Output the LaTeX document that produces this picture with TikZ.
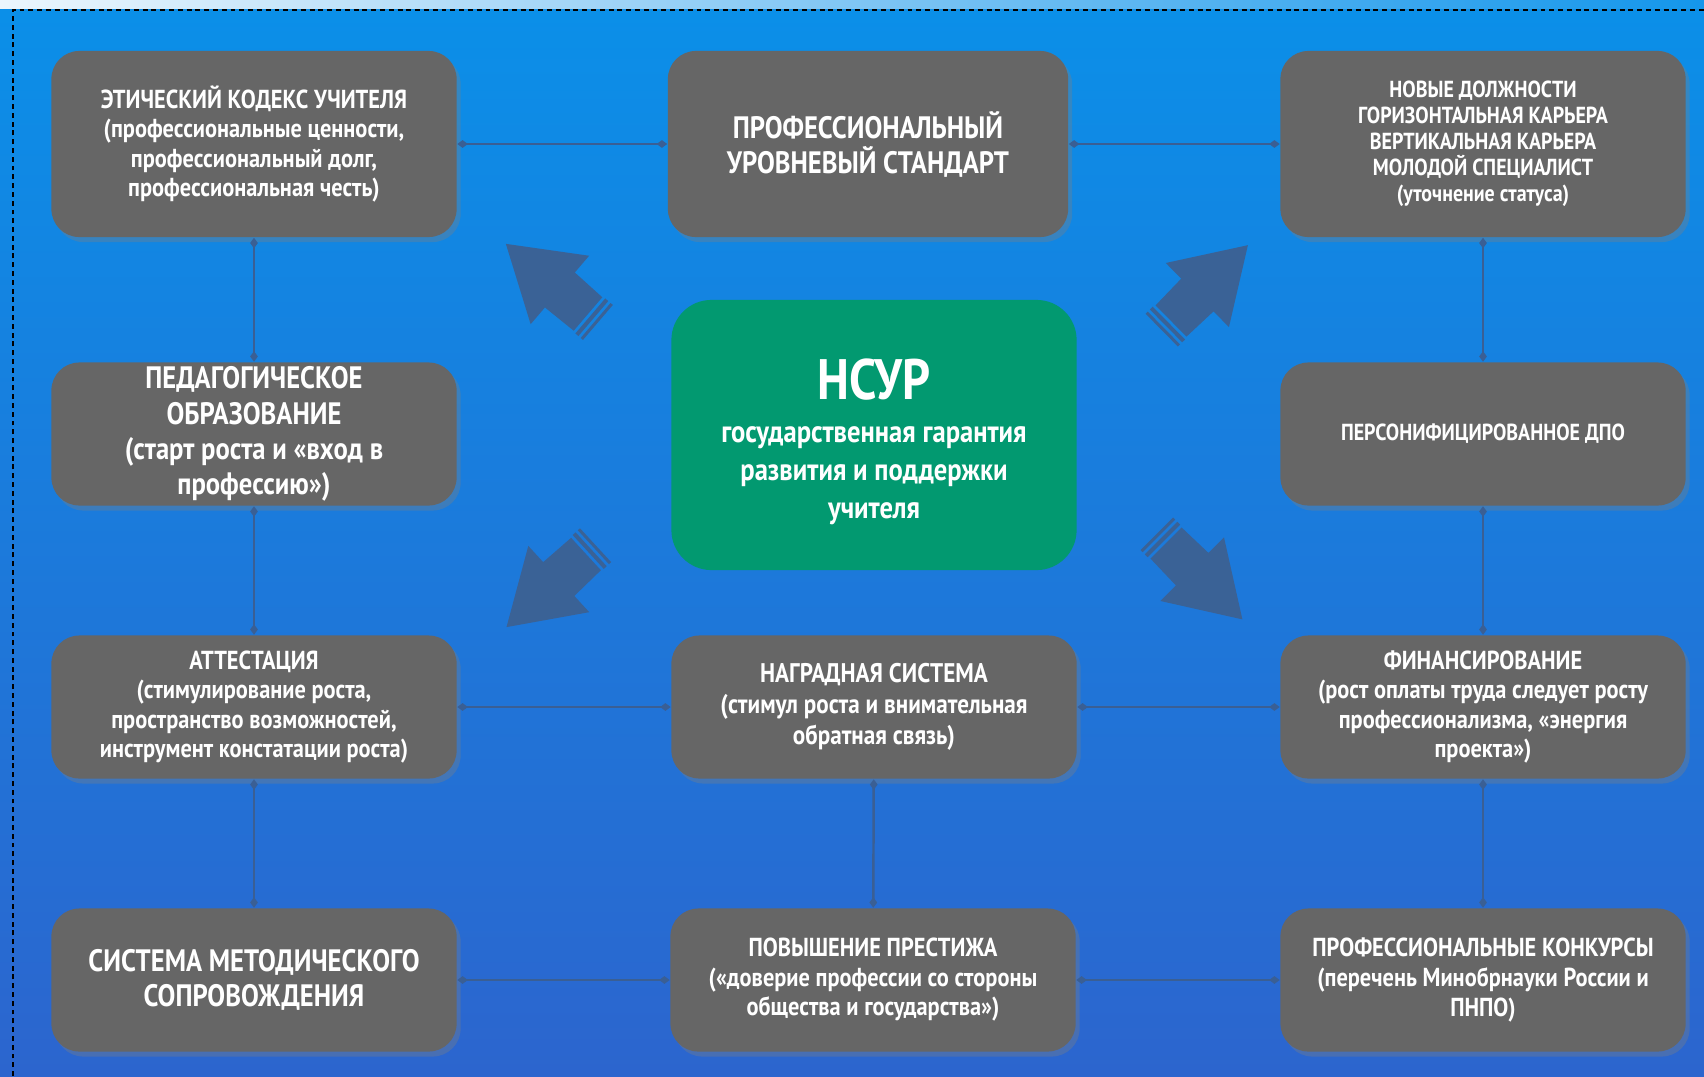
\documentclass[tikz,border=0pt]{standalone}
\usepackage{fontspec}
\setmainfont{PT Sans}[FakeStretch=0.86]
\usetikzlibrary{arrows.meta,shadows}

\definecolor{boxgray}{RGB}{102,102,102}
\definecolor{nsurgreen}{RGB}{2,153,112}
\definecolor{linkblue}{RGB}{58,95,148}
\definecolor{arrowblue}{RGB}{58,98,150}
\definecolor{bgtop}{RGB}{11,143,232}
\definecolor{bgbottom}{RGB}{44,101,206}

\newcommand{\txtL}{\bfseries\fontsize{8.8pt}{10pt}\selectfont}
\newcommand{\txtM}{\bfseries\fontsize{7.4pt}{8.4pt}\selectfont}
\newcommand{\txtN}{\bfseries\fontsize{7.65pt}{8.8pt}\selectfont}
\newcommand{\txtS}{\bfseries\fontsize{6.6pt}{7.4pt}\selectfont}
\newcommand{\txtC}{\bfseries\fontsize{8.8pt}{10.8pt}\selectfont}
\newcommand{\txtT}{\bfseries\fontsize{16.2pt}{18pt}\selectfont}

\tikzset{
  box/.style={fill=boxgray, text=white, align=center, rounded corners=0.28cm,
    minimum width=4.05cm, minimum height=1.43cm, inner sep=0pt,
    drop shadow={shadow xshift=0.04cm, shadow yshift=-0.05cm, opacity=0.35}},
  link/.style={draw=linkblue, line width=0.7pt,
    {Diamond[length=3pt,width=2.2pt]}-{Diamond[length=3pt,width=2.2pt]}},
  bigarrow/.pic={
    \fill[arrowblue] (0,-22) -- (37,-23) -- (37,-45) -- (108,0) -- (37,45) -- (37,23) -- (0,22) -- cycle;
    \fill[arrowblue] (-7,-23) rectangle (-3,23);
    \fill[arrowblue] (-13,-23) rectangle (-10,23);
  }
}

\begin{document}
\begin{tikzpicture}[x=0.01cm, y=-0.01cm]
  \useasboundingbox (0,0) rectangle (1704,1076);
  % background
  \shade[left color={rgb,255:red,236;green,246;blue,253}, middle color={rgb,255:red,140;green,205;blue,245}, right color={rgb,255:red,20;green,150;blue,235}] (0,0) rectangle (1704,10);
  \shade[top color=bgtop, bottom color=bgbottom] (0,10) rectangle (1704,1076);
  \draw[black, line width=0.35pt, dash pattern=on 1.4pt off 1.1pt] (13,1076) -- (13,10) -- (1704,10);

  % big arrows
  \pic[rotate=139.5] (arrUL) at (588,314) {bigarrow};
  \pic[rotate=44.6] (arrUR) at (1171,321) {bigarrow};
  \pic[rotate=222.6] (arrLL) at (586,554) {bigarrow};
  \pic[rotate=-45] (arrLR) at (1166,543) {bigarrow};

  % boxes
  \node[box, minimum height=1.86cm, font=\txtM] (kodeks) at (254,144) {ЭТИЧЕСКИЙ КОДЕКС УЧИТЕЛЯ\\(профессиональные ценности,\\профессиональный долг,\\профессиональная честь)};
  \node[box, minimum height=1.86cm, minimum width=4cm, font=\txtL] (standart) at (868,144) {ПРОФЕССИОНАЛЬНЫЙ\\УРОВНЕВЫЙ СТАНДАРТ};
  \node[box, minimum height=1.86cm, font=\txtS] (dolzhn) at (1483,144) {НОВЫЕ ДОЛЖНОСТИ\\ГОРИЗОНТАЛЬНАЯ КАРЬЕРА\\ВЕРТИКАЛЬНАЯ КАРЬЕРА\\МОЛОДОЙ СПЕЦИАЛИСТ\\(уточнение статуса)};

  \node[box, font=\txtL] (pedobr) at (254,434) {ПЕДАГОГИЧЕСКОЕ\\ОБРАЗОВАНИЕ\\(старт роста и «вход в\\профессию»)};
  \node[fill=nsurgreen, rounded corners=0.4cm, minimum width=4.05cm, minimum height=2.7cm, inner sep=0pt] (nsur) at (874,435) {};
  \node[text=white, align=center, font=\txtC] (nsurtext) at (874,442)
    {\txtT НСУР\\[1.5pt]\txtC государственная гарантия\\развития и поддержки\\учителя};
  \node[box, font=\txtS] (dpo) at (1483,434) {ПЕРСОНИФИЦИРОВАННОЕ ДПО};

  \node[box, font=\txtM] (attest) at (254,707) {АТТЕСТАЦИЯ\\(стимулирование роста,\\пространство возможностей,\\инструмент констатации роста)};
  \node[box, font=\txtN] (nagrad) at (874,707) {НАГРАДНАЯ СИСТЕМА\\(стимул роста и внимательная\\обратная связь)};
  \node[box, font=\txtM] (finans) at (1483,707) {ФИНАНСИРОВАНИЕ\\(рост оплаты труда следует росту\\профессионализма, «энергия\\проекта»)};

  \node[box, font=\txtL] (metod) at (254,980) {СИСТЕМА МЕТОДИЧЕСКОГО\\СОПРОВОЖДЕНИЯ};
  \node[box, font=\txtM] (prestizh) at (873,980) {ПОВЫШЕНИЕ ПРЕСТИЖА\\(«доверие профессии со стороны\\общества и государства»)};
  \node[box, font=\txtM] (konkurs) at (1483,980) {ПРОФЕССИОНАЛЬНЫЕ КОНКУРСЫ\\(перечень Минобрнауки России и\\ПНПО)};

  % connectors
  \draw[link] (kodeks) -- (standart); \draw[link] (standart) -- (dolzhn);
  \draw[link] (attest) -- (nagrad); \draw[link] (nagrad) -- (finans);
  \draw[link] (metod) -- (prestizh); \draw[link] (prestizh) -- (konkurs);
  \draw[link] (kodeks) -- (pedobr); \draw[link] (pedobr) -- (attest); \draw[link] (attest) -- (metod);
  \draw[link] (dolzhn) -- (dpo); \draw[link] (dpo) -- (finans); \draw[link] (finans) -- (konkurs);
  \draw[link] (nagrad) -- (prestizh);
\end{tikzpicture}
\end{document}
